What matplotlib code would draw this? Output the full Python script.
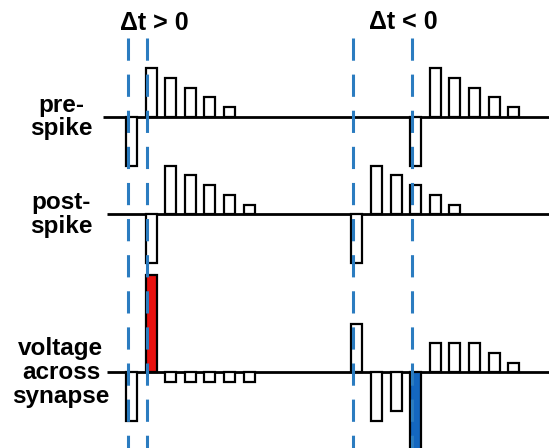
import matplotlib
matplotlib.use('Agg')
import matplotlib.pyplot as plt

plt.rcParams['font.family'] = ['Liberation Sans', 'DejaVu Sans']
plt.rcParams['lines.scale_dashes'] = False

# spike trains, one value per time slot (arbitrary units)
pre_left = [-5, 5, 4, 3, 2, 1]
post_left = [0, -5, 5, 4, 3, 2, 1]
volt_left = [-5, 10, -1, -1, -1, -1, -1]

pre_right = [0, 0, 0, -5, 5, 4, 3, 2, 1]
post_right = [-5, 5, 4, 3, 2, 1, 0, 0, 0]
volt_right = [5, -5, -4, -8, 3, 3, 3, 2, 1]

row_labels = ['pre-\nspike', 'post-\nspike', 'voltage\nacross\nsynapse']
titles = ['\u0394t > 0', '\u0394t < 0']

# layout
base_pre, base_post, base_volt = 0, -10, -26.2
right_origin = 11.5
bar_w = 0.56
dash_col = '#2b7cc0'

fig = plt.figure(figsize=(5.49, 4.48), dpi=100)
ax = fig.add_axes([0, 0, 1, 1])
ax.set_xlim(-126 / 19.6, 423 / 19.6)
ax.set_ylim(-33.95, 12.0)
ax.axis('off')

# baselines
ax.hlines(base_pre, -1.17, 30, color='black', lw=2, zorder=2)
ax.hlines([base_post, base_volt], -0.97, 30, color='black', lw=2, zorder=2)


def draw_train(vals, origin, base, hl=None, hl_col=None):
    for i, v in enumerate(vals):
        if v == 0:
            continue
        fc = hl_col if i == hl else 'white'
        ax.bar(origin + i, v, width=bar_w, bottom=base, align='edge',
               facecolor=fc, edgecolor='black', lw=1.6, zorder=3)


draw_train(pre_left, 0, base_pre)
draw_train(post_left, 0, base_post)
draw_train(volt_left, 0, base_volt, hl=1, hl_col='#e8110f')

draw_train(pre_right, right_origin, base_pre)
draw_train(post_right, right_origin, base_post)
draw_train(volt_right, right_origin, base_volt, hl=3, hl_col='#1467c0')

# dashed time markers
for t in [0, 1, right_origin, right_origin + 3]:
    ax.plot([t + 0.08, t + 0.08], [8.1, -34], color=dash_col, lw=2.2,
            dashes=(16, 10), zorder=4)

ax.text(1.43, 9.6, titles[0], ha='center', va='center', fontsize=18,
        fontweight='bold')
ax.text(right_origin + 2.63, 9.7, titles[1], ha='center', va='center',
        fontsize=18, fontweight='bold')

for lab, y in zip(row_labels, [base_pre, base_post, base_volt]):
    ax.text(-3.32, y, lab, ha='center', va='center', fontsize=17.5,
            fontweight='bold', linespacing=1.05)

fig.savefig('out.png', dpi=100)
